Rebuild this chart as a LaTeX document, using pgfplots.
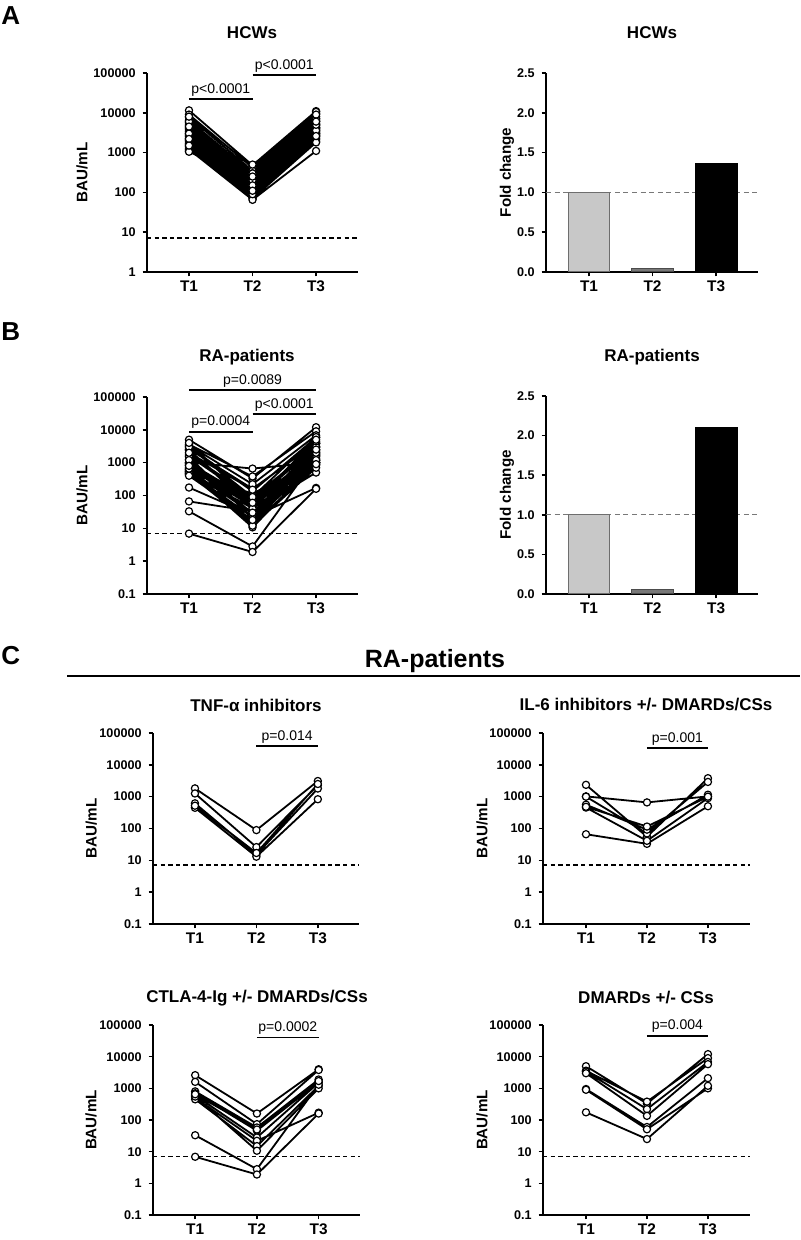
\documentclass[border=0pt]{standalone}
\usepackage{fontspec}
\setmainfont{Liberation Sans}
\usepackage{pgfplots}
\pgfplotsset{compat=1.18}
\newcommand\fs[1]{\fontsize{#1}{#1}\selectfont}
\definecolor{barlight}{RGB}{200,200,200}
\definecolor{baredge}{RGB}{110,110,110}
\definecolor{barmid}{RGB}{120,120,120}
\definecolor{refgray}{RGB}{120,120,120}
\pgfplotsset{
 prism/.style={scale only axis, axis x line*=bottom, axis y line*=left,
   axis line style={line width=0.9pt},
   every tick/.style={black, line width=0.8pt},
   tick align=outside, major tick length=2.2pt,
   xtick={1,2,3}, xticklabels={T1,T2,T3},
   xticklabel style={font=\fs{7.7}\bfseries, inner sep=1.8pt, text height=5.6pt, text depth=0pt, anchor=north},
   yticklabel style={font=\fs{6.3}\bfseries},
   unbounded coords=jump, clip=false},
 ylabx/.style={every axis y label/.style={at={(axis description cs:#1,0.5)}, rotate=90, anchor=center, font=\fs{7.6}\bfseries}},
 logax/.style={prism, yminorticks=false, ymax=1e5, ylabel={BAU/mL}},
 fullticks/.style={ymin=0.1, ytick={0.1,1,10,100,1000,10000,100000}, yticklabels={0.1,1,10,100,1000,10000,100000}},
 subj/.style={black, line width=0.9pt, mark=*, mark size=1.8pt, mark options={fill=white, draw=black, line width=0.6pt, solid}},
 thr/.style={black, line width=0.7pt, dash pattern=on 2.2pt off 1.6pt, no marks},
 foldax/.style={prism, ymin=0, ymax=2.5, ytick={0,0.5,1,1.5,2,2.5}, yticklabels={0.0,0.5,1.0,1.5,2.0,2.5}, ylabel={Fold change}, ylabx=-0.184},
}
\tikzset{pbar/.style={line width=0.9pt}, ptext/.style={midway, above, inner sep=1pt, font=\fs{7}}}
\begin{document}
\begin{tikzpicture}
\useasboundingbox (0,0) rectangle (400pt,620pt);

% ---------------- A left: HCWs
\begin{semilogyaxis}[logax, at={(73.5pt,484pt)}, anchor=south west, width=105.5pt, height=99.5pt,
  xmin=0.339, xmax=3.66, ymin=1, ytick={1,10,100,1000,10000,100000}, yticklabels={1,10,100,1000,10000,100000}, ylabx=-0.308]
\addplot[thr] coordinates {(0.339,7.1)(3.66,7.1)};
\addplot[subj] coordinates {
(1,11500)(2,480)(3,11000)(3,nan)
(1,9000)(2,420)(3,9500)(3,nan)
(1,7800)(2,350)(3,10500)(3,nan)
(1,6500)(2,300)(3,8000)(3,nan)
(1,5800)(2,260)(3,7200)(3,nan)
(1,5200)(2,230)(3,6500)(3,nan)
(1,4800)(2,210)(3,6000)(3,nan)
(1,4300)(2,190)(3,5400)(3,nan)
(1,4000)(2,180)(3,5000)(3,nan)
(1,3700)(2,170)(3,4700)(3,nan)
(1,3400)(2,155)(3,4300)(3,nan)
(1,3100)(2,145)(3,4000)(3,nan)
(1,2900)(2,135)(3,3800)(3,nan)
(1,2700)(2,125)(3,3500)(3,nan)
(1,2500)(2,118)(3,3300)(3,nan)
(1,2300)(2,110)(3,3100)(3,nan)
(1,2100)(2,100)(3,2900)(3,nan)
(1,2000)(2,95)(3,2700)(3,nan)
(1,1850)(2,90)(3,2500)(3,nan)
(1,1700)(2,85)(3,2300)(3,nan)
(1,1600)(2,80)(3,2100)(3,nan)
(1,1450)(2,75)(3,1900)(3,nan)
(1,1300)(2,70)(3,1800)(3,nan)
(1,1200)(2,65)(3,1100)(3,nan)
(1,1100)(2,120)(3,3000)(3,nan)
(1,1050)(2,200)(3,4200)(3,nan)
(1,3000)(2,500)(3,7000)(3,nan)
(1,6000)(2,90)(3,3600)(3,nan)
(1,2200)(2,300)(3,9000)(3,nan)
(1,8000)(2,150)(3,5000)(3,nan)
(1,1500)(2,250)(3,6000)(3,nan)
(1,4500)(2,110)(3,2600)
};
\draw[pbar] (axis cs:1,22000) -- (axis cs:2,22000) node[ptext] {p<0.0001};
\draw[pbar] (axis cs:2,89000) -- (axis cs:3,89000) node[ptext] {p<0.0001};
\end{semilogyaxis}

% ---------------- A right: fold change HCWs
\begin{axis}[foldax, at={(273pt,484pt)}, anchor=south west, width=106pt, height=99.5pt,
  xmin=0.323, xmax=3.66]
\addplot[refgray, line width=0.7pt, dash pattern=on 2.5pt off 1.8pt, no marks] coordinates {(0.323,1)(3.66,1)};
\addplot[ybar, bar width=0.66, bar shift=0pt, fill=barlight, draw=baredge, line width=0.5pt] coordinates {(1,1)};
\addplot[ybar, bar width=0.66, bar shift=0pt, fill=barmid, draw=black!70, line width=0.5pt] coordinates {(2,0.05)};
\addplot[ybar, bar width=0.66, bar shift=0pt, fill=black, draw=black, line width=0.5pt] coordinates {(3,1.36)};
\end{axis}

% ---------------- B left: RA patients
\begin{semilogyaxis}[logax, fullticks, at={(73.5pt,323pt)}, anchor=south west, width=105.5pt, height=98.5pt,
  xmin=0.339, xmax=3.66, ylabx=-0.308]
\addplot[thr] coordinates {(0.339,7.1)(3.66,7.1)};
\addplot[subj] coordinates {
(1,1820)(2,89)(3,3100)(3,nan)
(1,1260)(2,26)(3,2300)(3,nan)
(1,616)(2,15)(3,1800)(3,nan)
(1,447)(2,13)(3,830)(3,nan)
(1,520)(2,17)(3,2500)(3,nan)
(1,66)(2,33)(3,500)(3,nan)
(1,1020)(2,660)(3,1020)(3,nan)
(1,2350)(2,55)(3,3800)(3,nan)
(1,1000)(2,70)(3,2900)(3,nan)
(1,560)(2,92)(3,1150)(3,nan)
(1,455)(2,41)(3,900)(3,nan)
(1,480)(2,115)(3,1000)(3,nan)
(1,2600)(2,160)(3,4000)(3,nan)
(1,1600)(2,74)(3,3800)(3,nan)
(1,800)(2,58)(3,1900)(3,nan)
(1,700)(2,46)(3,1600)(3,nan)
(1,600)(2,28)(3,1500)(3,nan)
(1,500)(2,22)(3,170)(3,nan)
(1,450)(2,15)(3,1200)(3,nan)
(1,550)(2,10.7)(3,1000)(3,nan)
(1,33)(2,2.8)(3,1300)(3,nan)
(1,6.9)(2,1.9)(3,160)(3,nan)
(1,650)(2,50)(3,1700)(3,nan)
(1,5000)(2,330)(3,12000)(3,nan)
(1,3600)(2,380)(3,9000)(3,nan)
(1,3400)(2,220)(3,6800)(3,nan)
(1,3000)(2,135)(3,5800)(3,nan)
(1,950)(2,60)(3,2100)(3,nan)
(1,900)(2,51)(3,1000)(3,nan)
(1,175)(2,25)(3,1200)(3,nan)
(1,2500)(2,40)(3,3000)(3,nan)
(1,1500)(2,20)(3,2000)(3,nan)
(1,3000)(2,90)(3,6000)(3,nan)
(1,1200)(2,12)(3,700)(3,nan)
(1,800)(2,30)(3,2500)(3,nan)
(1,2000)(2,150)(3,4500)(3,nan)
(1,400)(2,18)(3,900)(3,nan)
(1,4000)(2,60)(3,5000)
};
\draw[pbar] (axis cs:1,160000) -- (axis cs:3,160000) node[ptext] {p=0.0089};
\draw[pbar] (axis cs:2,29500) -- (axis cs:3,29500) node[ptext] {p<0.0001};
\draw[pbar] (axis cs:1,8700) -- (axis cs:2,8700) node[ptext] {p=0.0004};
\end{semilogyaxis}

% ---------------- B right: fold change RA
\begin{axis}[foldax, at={(273pt,323pt)}, anchor=south west, width=106pt, height=99pt,
  xmin=0.323, xmax=3.66]
\addplot[refgray, line width=0.7pt, dash pattern=on 2.5pt off 1.8pt, no marks] coordinates {(0.323,1)(3.66,1)};
\addplot[ybar, bar width=0.66, bar shift=0pt, fill=barlight, draw=baredge, line width=0.5pt] coordinates {(1,1)};
\addplot[ybar, bar width=0.66, bar shift=0pt, fill=barmid, draw=black!70, line width=0.5pt] coordinates {(2,0.06)};
\addplot[ybar, bar width=0.66, bar shift=0pt, fill=black, draw=black, line width=0.5pt] coordinates {(3,2.1)};
\end{axis}

% ---------------- C top left: TNF
\begin{semilogyaxis}[logax, fullticks, at={(76.5pt,158pt)}, anchor=south west, width=103pt, height=95.5pt,
  xmin=0.317, xmax=3.67, ylabx=-0.30]
\addplot[thr] coordinates {(0.317,7.1)(3.67,7.1)};
\addplot[subj] coordinates {
(1,1820)(2,89)(3,3100)(3,nan)
(1,1260)(2,26)(3,2300)(3,nan)
(1,616)(2,15)(3,1800)(3,nan)
(1,447)(2,13)(3,830)(3,nan)
(1,520)(2,17)(3,2500)
};
\draw[pbar] (axis cs:2,38000) -- (axis cs:3,38000) node[ptext] {p=0.014};
\end{semilogyaxis}

% ---------------- C top right: IL-6
\begin{semilogyaxis}[logax, fullticks, at={(271.5pt,158pt)}, anchor=south west, width=103.5pt, height=95.5pt,
  xmin=0.295, xmax=3.69, ylabx=-0.295]
\addplot[thr] coordinates {(0.295,7.1)(3.69,7.1)};
\addplot[subj] coordinates {
(1,66)(2,33)(3,500)(3,nan)
(1,1020)(2,660)(3,1020)(3,nan)
(1,2350)(2,55)(3,3800)(3,nan)
(1,1000)(2,70)(3,2900)(3,nan)
(1,560)(2,92)(3,1150)(3,nan)
(1,455)(2,41)(3,900)(3,nan)
(1,480)(2,115)(3,1000)
};
\draw[pbar] (axis cs:2,34000) -- (axis cs:3,34000) node[ptext] {p=0.001};
\end{semilogyaxis}

% ---------------- C bottom left: CTLA-4-Ig
\begin{semilogyaxis}[logax, fullticks, at={(76.5pt,12.5pt)}, anchor=south west, width=103.5pt, height=95pt,
  xmin=0.317, xmax=3.67, ylabx=-0.30]
\addplot[thr] coordinates {(0.317,7.1)(3.67,7.1)};
\addplot[subj] coordinates {
(1,2600)(2,160)(3,4000)(3,nan)
(1,1600)(2,74)(3,3800)(3,nan)
(1,800)(2,58)(3,1900)(3,nan)
(1,700)(2,46)(3,1600)(3,nan)
(1,600)(2,28)(3,1500)(3,nan)
(1,500)(2,22)(3,170)(3,nan)
(1,450)(2,15)(3,1200)(3,nan)
(1,550)(2,10.7)(3,1000)(3,nan)
(1,33)(2,2.8)(3,1300)(3,nan)
(1,6.9)(2,1.9)(3,160)(3,nan)
(1,650)(2,50)(3,1700)
};
\draw[pbar] (axis cs:2,40000) -- (axis cs:3,40000) node[ptext] {p=0.0002};
\end{semilogyaxis}

% ---------------- C bottom right: DMARDs
\begin{semilogyaxis}[logax, fullticks, at={(271.5pt,12.5pt)}, anchor=south west, width=103.5pt, height=95pt,
  xmin=0.295, xmax=3.69, ylabx=-0.295]
\addplot[thr] coordinates {(0.295,7.1)(3.69,7.1)};
\addplot[subj] coordinates {
(1,5000)(2,330)(3,12000)(3,nan)
(1,3600)(2,380)(3,9000)(3,nan)
(1,3400)(2,220)(3,6800)(3,nan)
(1,3000)(2,135)(3,5800)(3,nan)
(1,950)(2,60)(3,2100)(3,nan)
(1,900)(2,51)(3,1000)(3,nan)
(1,175)(2,25)(3,1200)
};
\draw[pbar] (axis cs:2,46000) -- (axis cs:3,46000) node[ptext] {p=0.004};
\end{semilogyaxis}

% ---------------- titles and labels
\node[font=\fs{8.5}\bfseries] at (126pt,603.5pt) {HCWs};
\node[font=\fs{8.5}\bfseries] at (326pt,603.5pt) {HCWs};
\node[font=\fs{8.5}\bfseries] at (123.5pt,441.5pt) {RA-patients};
\node[font=\fs{8.5}\bfseries] at (326pt,441.5pt) {RA-patients};
\node[font=\fs{8.5}\bfseries] at (128pt,267.5pt) {TNF-α inhibitors};
\node[font=\fs{8.5}\bfseries] at (323pt,267.5pt) {IL-6 inhibitors +/- DMARDs/CSs};
\node[font=\fs{8.5}\bfseries] at (128.5pt,121pt) {CTLA-4-Ig +/- DMARDs/CSs};
\node[font=\fs{8.5}\bfseries] at (323pt,121pt) {DMARDs +/- CSs};
\node[font=\fs{13}\bfseries, anchor=west, inner sep=0pt] at (0.5pt,612pt) {A};
\node[font=\fs{13}\bfseries, anchor=west, inner sep=0pt] at (0.5pt,454pt) {B};
\node[font=\fs{13}\bfseries, anchor=west, inner sep=0pt] at (0.5pt,292pt) {C};
\node[font=\fs{12.5}\bfseries] at (217.5pt,289.5pt) {RA-patients};
\draw[line width=0.9pt] (33.5pt,282pt) -- (400pt,282pt);
\end{tikzpicture}
\end{document}
